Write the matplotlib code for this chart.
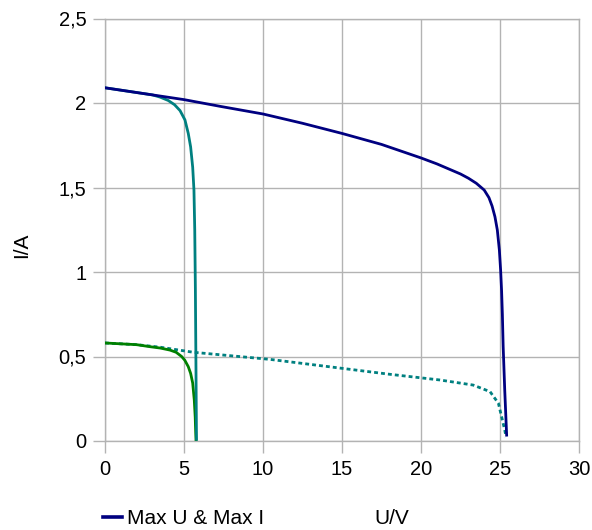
import matplotlib
matplotlib.use("Agg")
import matplotlib.pyplot as plt
from matplotlib.lines import Line2D
from matplotlib.ticker import FuncFormatter

plt.rcParams['font.family'] = ['Liberation Sans', 'DejaVu Sans']

# I-V characteristics (U in volts, I in amperes)
u_max = [0.0, 2.5, 5.0, 7.3, 10.0, 12.5, 15.0, 17.5, 20.0, 21.0, 22.0, 22.5, 23.0, 23.5,
         24.0, 24.3, 24.5, 24.68, 24.83, 24.96, 25.04, 25.1, 25.15, 25.2, 25.3, 25.42]
i_max = [2.09, 2.055, 2.02, 1.98, 1.935, 1.88, 1.82, 1.755, 1.675, 1.64, 1.60, 1.58, 1.555, 1.525,
         1.485, 1.44, 1.39, 1.327, 1.249, 1.13, 1.01, 0.89, 0.75, 0.56, 0.30, 0.035]

u_maxu = [0.0, 2.0, 3.0, 3.48, 4.0, 4.4, 4.75, 5.06, 5.27, 5.42, 5.55, 5.63, 5.68, 5.72, 5.76, 5.79]
i_maxu = [2.09, 2.062, 2.048, 2.035, 2.015, 1.99, 1.955, 1.90, 1.82, 1.74, 1.62, 1.485, 1.25, 0.9, 0.4, 0.01]

u_maxi = [0.0, 2.0, 2.85, 3.5, 4.11, 4.5, 4.85, 5.05, 5.27, 5.42, 5.55, 5.65, 5.71, 5.74, 5.76]
i_maxi = [0.58, 0.57, 0.558, 0.55, 0.538, 0.525, 0.50, 0.478, 0.44, 0.40, 0.343, 0.243, 0.14, 0.05, 0.005]

u_min = [0.0, 2.0, 3.5, 5.59, 10.44, 15.0, 18.0, 21.2, 23.3, 24.37, 24.9, 25.1, 25.3, 25.38]
i_min = [0.58, 0.57, 0.555, 0.525, 0.483, 0.43, 0.395, 0.361, 0.331, 0.292, 0.223, 0.144, 0.065, 0.024]

x_ticks = [0, 5, 10, 15, 20, 25, 30]
y_ticks = [0, 0.5, 1, 1.5, 2, 2.5]

fig = plt.figure(figsize=(5.92, 5.3), dpi=100)
ax = fig.add_axes([105 / 592, 1 - 441 / 530, (579 - 105) / 592, (441 - 18.5) / 530])

lw = 2.0
ax.plot(u_min, i_min, color='#008080', lw=lw, linestyle=(0, (1.4, 1.1)),
        dash_capstyle='butt', zorder=3)
ax.plot(u_maxi, i_maxi, color='#008000', lw=lw, zorder=4)
ax.plot(u_maxu, i_maxu, color='#008080', lw=lw, zorder=4)
ax.plot(u_max, i_max, color='#000080', lw=lw, zorder=5)

ax.set_xlim(0, 30)
ax.set_ylim(0, 2.5)
ax.set_xticks(x_ticks)
ax.set_yticks(y_ticks)
comma = FuncFormatter(lambda v, p: ('%g' % v).replace('.', ','))
ax.xaxis.set_major_formatter(comma)
ax.yaxis.set_major_formatter(comma)

grid_c = '#b3b3b3'
ax.grid(True, color=grid_c, lw=1.0)
ax.set_axisbelow(True)
for s in ax.spines.values():
    s.set_color(grid_c)
    s.set_linewidth(1.0)
ax.tick_params(axis='both', direction='out', length=8.5, width=1.0, color=grid_c,
               labelsize=14.5, labelcolor='black', pad=5)

fig.text(22 / 592, 1 - 245 / 530, 'I/A', rotation=90, ha='center', va='center', fontsize=15)
fig.text(392 / 592, 1 - 519 / 530, 'U/V', ha='center', va='center', fontsize=15)

handle = Line2D([], [], color='#000080', lw=2.6)
fig.legend(handles=[handle], labels=['Max U & Max I'], loc='center left',
           bbox_to_anchor=(103 / 592, 1 - 519 / 530), frameon=False, fontsize=15,
           handlelength=0.9, handletextpad=0.25, borderaxespad=0, borderpad=0)

fig.savefig('out.png', dpi=100)
